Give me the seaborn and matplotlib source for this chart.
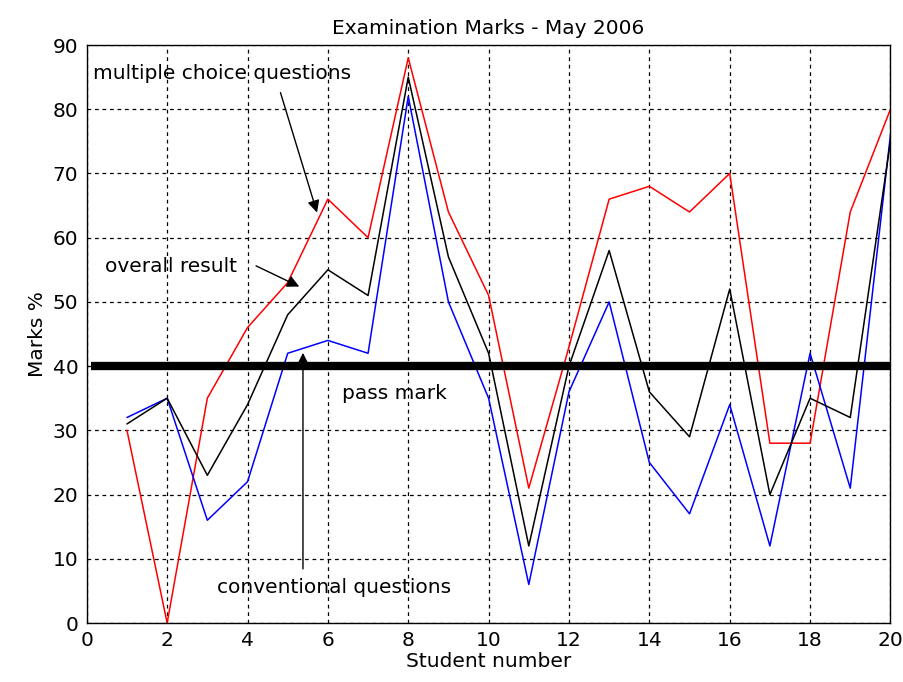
import matplotlib
matplotlib.use("Agg")
import matplotlib.pyplot as plt
import pandas as pd
import numpy as np
import seaborn as sns

## Data
students = list(range(1, 21))
multiple_choice = [30, 0, 35, 46, 53, 66, 60, 88, 64, 51, 21, 43, 66, 68, 64, 70, 28, 28, 64, 80]
overall = [31, 35, 23, 34, 48, 55, 51, 85, 57, 42, 12, 40, 58, 36, 29, 52, 20, 35, 32, 75]
conventional = [32, 35, 16, 22, 42, 44, 42, 82, 50, 35, 6, 36, 50, 25, 17, 34, 12, 42, 21, 76]
pass_mark = 40

df = pd.concat([
    pd.DataFrame({"student": students, "marks": multiple_choice, "series": "multiple choice"}),
    pd.DataFrame({"student": students, "marks": conventional, "series": "conventional"}),
    pd.DataFrame({"student": students, "marks": overall, "series": "overall"}),
])

sns.set_style("white")
plt.rcParams['font.family'] = ['DejaVu Sans']
plt.rcParams['text.color'] = 'black'
plt.rcParams['axes.labelcolor'] = 'black'

fig = plt.figure(figsize=(9.04, 6.82), dpi=100)
ax = fig.add_axes([0.096, 0.0865, 0.889, 0.8475])

sns.lineplot(data=df, x="student", y="marks", hue="series",
             palette={"multiple choice": "red", "conventional": "blue", "overall": "black"},
             linewidth=1.1, legend=False, ax=ax)

# pass mark line
ax.plot([0.1, 20], [pass_mark, pass_mark], color="black", linewidth=6, solid_capstyle="butt")

ax.set_xlim(0, 20)
ax.set_ylim(0, 90)
ax.set_xticks(range(0, 21, 2))
ax.set_yticks(range(0, 91, 10))
ax.grid(True, color="black", linestyle=(0, (3, 3)), linewidth=0.9)
ax.tick_params(direction="in", length=5, labelsize=14.5, colors="black", pad=6)
for s in ax.spines.values():
    s.set_color("black")
    s.set_linewidth(1)

fs = 14.5
ax.set_title("Examination Marks - May 2006", fontsize=fs, pad=8)
ax.set_xlabel("Student number", fontsize=fs, labelpad=1)
ax.set_ylabel("Marks %", fontsize=fs, labelpad=4)

# annotations
arr = dict(arrowstyle="-|>", color="black", lw=1, mutation_scale=18)
ax.text(0.15, 85.5, "multiple choice questions", fontsize=fs, ha="left", va="center")
ax.annotate("", xy=(5.75, 63.5), xytext=(4.8, 83), arrowprops=arr)
ax.text(0.45, 55.5, "overall result", fontsize=fs, ha="left", va="center")
ax.annotate("", xy=(5.35, 52.2), xytext=(4.15, 55.8), arrowprops=arr)
ax.text(6.35, 35.7, "pass mark", fontsize=fs, ha="left", va="center")
ax.text(3.25, 5.5, "conventional questions", fontsize=fs, ha="left", va="center")
ax.annotate("", xy=(5.38, 42.5), xytext=(5.38, 8), arrowprops=arr)

plt.savefig("out.png", dpi=100)
